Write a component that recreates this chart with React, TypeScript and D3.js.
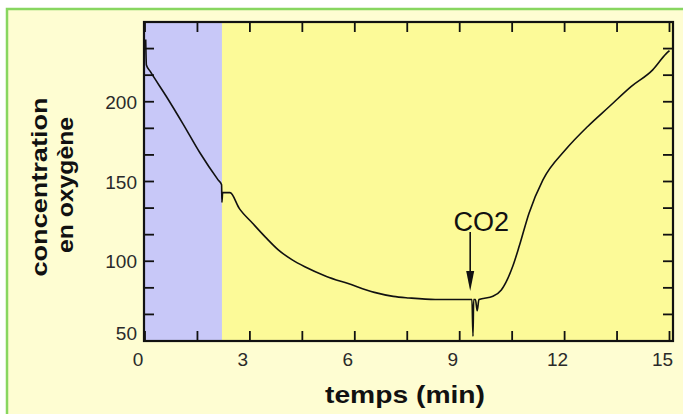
import React from 'react';
import * as d3 from 'd3';

// oxygen trace (time in min, concentration)
const times = [
  0.02, 0.04, 0.15, 0.62, 1.09, 1.57, 2.09, 2.19, 2.2, 2.22, 2.43, 2.7, 3.07, 3.45, 3.82, 4.2, 4.57,
  5.19, 5.81, 6.56, 7.1, 7.55, 8.3, 9.23, 9.35, 9.38, 9.4, 9.45, 9.5, 9.55, 9.95, 10.19,
  10.52, 10.71, 10.98, 11.38, 12.03, 12.66, 13.28, 13.9, 14.52, 14.9, 15.0,
];
const oxygen = [
  239, 223, 219, 203, 186, 168, 151, 148, 137, 143, 143, 133, 124, 115, 107, 101, 96.5,
  90.5, 86, 80.5, 78, 77, 76, 76, 76, 53, 76, 76, 69, 76, 78, 82,
  97, 110, 130, 151, 170, 184.5, 197, 209.5, 220, 230, 232,
];
const xTicks = [0, 3, 6, 9, 12, 15];
const yTicks = [50, 100, 150, 200];
const lightPhase = [0, 2.2];
const co2Time = 9.3;

const W = 683;
const H = 414;
const plot = { left: 144, right: 673, top: 22, bottom: 341 };

const App: React.FC = () => {
  const x = d3.scaleLinear().domain([0, 15.1]).range([145, plot.right]);
  const y = d3.scaleLinear().domain([50, 250]).range([plot.bottom, plot.top]);

  const pts = times.map((t, i) => [t, oxygen[i]] as [number, number]);
  const line = d3.line<[number, number]>()
    .x(d => x(d[0]))
    .y(d => y(d[1]))
    .curve(d3.curveMonotoneX)(pts) || '';

  const minorX = d3.range(0, 15.01, 1.5);
  const minorY = d3.range(0, 13).map(i => 50 + (i * 50) / 3).filter(v => v < 249);
  const tickLen = 10;
  const font = 'Arial, "Liberation Sans", Helvetica, sans-serif';

  const ax = x(co2Time);

  return (
    <svg width={W} height={H} style={{ position: 'absolute', left: 0, top: 0 }}>
      <rect x={0} y={0} width={W} height={H} fill="#ffffff" />
      <rect x={7} y={9} width={W} height={H} fill="#fefdd2" stroke="#88d660" strokeWidth={2.5} />

      {/* plot background */}
      <rect x={plot.left} y={plot.top} width={plot.right - plot.left} height={plot.bottom - plot.top} fill="#fcfa98" />
      <rect x={plot.left} y={plot.top} width={x(lightPhase[1]) - plot.left} height={plot.bottom - plot.top} fill="#c8c8f8" />

      {/* ticks, all four sides, inward */}
      <g stroke="#111" strokeWidth={1.8}>
        {minorX.map(v => (
          <g key={'x' + v}>
            <line x1={x(v)} x2={x(v)} y1={plot.bottom} y2={plot.bottom - tickLen} />
            <line x1={x(v)} x2={x(v)} y1={plot.top} y2={plot.top + tickLen} />
          </g>
        ))}
        {minorY.map(v => (
          <g key={'y' + v}>
            <line x1={plot.left} x2={plot.left + tickLen} y1={y(v)} y2={y(v)} />
            <line x1={plot.right} x2={plot.right - tickLen} y1={y(v)} y2={y(v)} />
          </g>
        ))}
      </g>

      <path d={line} fill="none" stroke="#111" strokeWidth={1.6} strokeLinejoin="miter" />

      <rect x={plot.left} y={plot.top} width={plot.right - plot.left} height={plot.bottom - plot.top}
        fill="none" stroke="#111" strokeWidth={2.2} />

      {/* tick labels */}
      <g fontFamily={font} fontSize={19} fill="#2a2a2a">
        {xTicks.map(v => (
          <text key={v} x={x(v) - 7} y={366} textAnchor="middle">{v}</text>
        ))}
        {yTicks.map(v => (
          <text key={v} x={137} y={v === 50 ? y(v) - 1 : y(v) + 7} textAnchor="end">{v}</text>
        ))}
      </g>

      {/* axis titles */}
      <text x={405} y={403} textAnchor="middle" fontFamily={font} fontWeight="bold" fontSize={24}
        fill="#111" textLength={160} lengthAdjust="spacingAndGlyphs">temps (min)</text>
      <g fontFamily={font} fontWeight="bold" fontSize={22} fill="#111">
        <text transform="translate(47,187) rotate(-90)" textAnchor="middle" textLength={179}
          lengthAdjust="spacingAndGlyphs">concentration</text>
        <text transform="translate(73,185) rotate(-90)" textAnchor="middle" textLength={136}
          lengthAdjust="spacingAndGlyphs">en oxygène</text>
      </g>

      {/* CO2 injection arrow */}
      <text x={ax + 11} y={231} textAnchor="middle" fontFamily={font} fontSize={27} fill="#111">CO2</text>
      <line x1={ax} x2={ax} y1={232} y2={278} stroke="#111" strokeWidth={1.6} />
      <path d={`M${ax - 4},${271} L${ax + 4},${271} L${ax},${291} Z`} fill="#111" />
    </svg>
  );
};

export default App;
